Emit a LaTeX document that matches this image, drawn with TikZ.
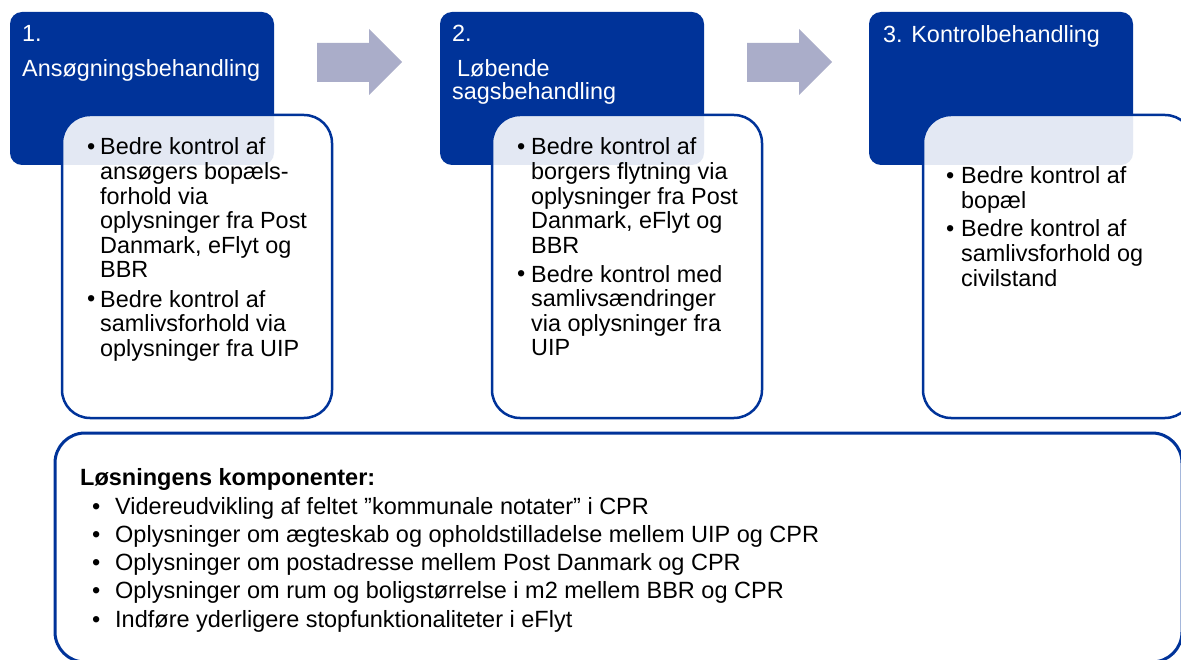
\documentclass[tikz,border=0pt]{standalone}
\usepackage{fontspec}
\setmainfont{Liberation Sans}
\definecolor{hblue}{RGB}{0,51,153}
\definecolor{arrowc}{RGB}{170,173,201}
\begin{document}
\begin{tikzpicture}[x=1pt,y=-1pt,
  hdr/.style={fill=hblue, rounded corners=12pt, inner sep=0pt, outer sep=0pt, anchor=north west, minimum width=264pt, minimum height=153pt},
  tbox/.style={draw=hblue, line width=2.5pt, fill=white, fill opacity=0.89, rounded corners=28pt, inner sep=0pt, outer sep=0pt, anchor=north west, minimum width=270pt, minimum height=303pt},
  bbox/.style={draw=hblue, line width=3pt, fill=white, rounded corners=30pt, inner sep=0pt, outer sep=0pt, anchor=north west},
  htext/.style={text=white, inner sep=0pt, anchor=base west, font=\fontsize{23.4}{27}\selectfont},
  body/.style={text=black, inner sep=0pt, anchor=base west, align=left, font=\fontsize{23.4}{24.6}\selectfont},
  blt/.style={text=black, inner sep=0pt, anchor=base west, font=\fontsize{23.4}{24.6}\selectfont},
  btext/.style={text=black, inner sep=0pt, anchor=base west, font=\fontsize{23.5}{28.7}\selectfont},
  blockarrow/.style={fill=arrowc}]
\useasboundingbox (0,0) rectangle (1181,660);

% header boxes
\node[hdr] (h1) at (10,12) {};
\node[hdr] (h2) at (440,12) {};
\node[hdr] (h3) at (869,12) {};

% text boxes
\node[tbox] (t1) at (62,115) {};
\node[tbox] (t2) at (492,115) {};
\node[tbox] (t3) at (923,115) {};

% bottom box
\node[bbox, minimum width=1127pt, minimum height=229pt] (bot) at (55,433) {};

% block arrows
\fill[blockarrow] (317,43) -- (369,43) -- (369,29) -- (402,62) -- (369,95) -- (369,82) -- (317,82) -- cycle;
\fill[blockarrow] (747,43) -- (799,43) -- (799,29) -- (832,62) -- (799,95) -- (799,82) -- (747,82) -- cycle;

% header texts
\node[htext] (h1a) at (22,42) {1.};
\node[htext] (h1b) at (22,77) {Ansøgningsbehandling};
\node[htext] (h2a) at (452,42) {2.};
\node[htext] (h2b) at (457,77) {Løbende};
\node[htext] (h2c) at (452,100) {sagsbehandling};
\node[htext] (h3a) at (883,43) {3. Kontrolbehandling};

% box 1 (multi-line nodes are anchored at the baseline of their last line)
\node[blt] (b1p1) at (87,155) {•};
\node[body] (b1t1) at (100,278) {Bedre kontrol af\\ansøgers bopæls-\\forhold via\\oplysninger fra Post\\Danmark, eFlyt og\\BBR};
\node[blt] (b1p2) at (87,307) {•};
\node[body] (b1t2) at (100,356.2) {Bedre kontrol af\\samlivsforhold via\\oplysninger fra UIP};

% box 2
\node[blt] (b2p1) at (517,155) {•};
\node[body] (b2t1) at (531,253.4) {Bedre kontrol af\\borgers flytning via\\oplysninger fra Post\\Danmark, eFlyt og\\BBR};
\node[blt] (b2p2) at (517,282) {•};
\node[body] (b2t2) at (531,355.8) {Bedre kontrol med\\samlivsændringer\\via oplysninger fra\\UIP};

% box 3
\node[blt] (b3p1) at (946,184) {•};
\node[body] (b3t1) at (961,208.6) {Bedre kontrol af\\bopæl};
\node[blt] (b3p2) at (946,237) {•};
\node[body] (b3t2) at (961,286.2) {Bedre kontrol af\\samlivsforhold og\\civilstand};

% bottom texts
\node[btext, font=\fontsize{23.5}{28.7}\selectfont\bfseries] (bt0) at (80,485) {Løsningens komponenter:};
\node[btext] (bp1) at (92,514) {•};
\node[btext] (bt1) at (115,514) {Videreudvikling af feltet ”kommunale notater” i CPR};
\node[btext] (bp2) at (92,542) {•};
\node[btext] (bt2) at (115,542) {Oplysninger om ægteskab og opholdstilladelse mellem UIP og CPR};
\node[btext] (bp3) at (92,570) {•};
\node[btext] (bt3) at (115,570) {Oplysninger om postadresse mellem Post Danmark og CPR};
\node[btext] (bp4) at (92,598) {•};
\node[btext] (bt4) at (115,598) {Oplysninger om rum og boligstørrelse i m2 mellem BBR og CPR};
\node[btext] (bp5) at (92,627) {•};
\node[btext] (bt5) at (115,627) {Indføre yderligere stopfunktionaliteter i eFlyt};
\end{tikzpicture}
\end{document}
